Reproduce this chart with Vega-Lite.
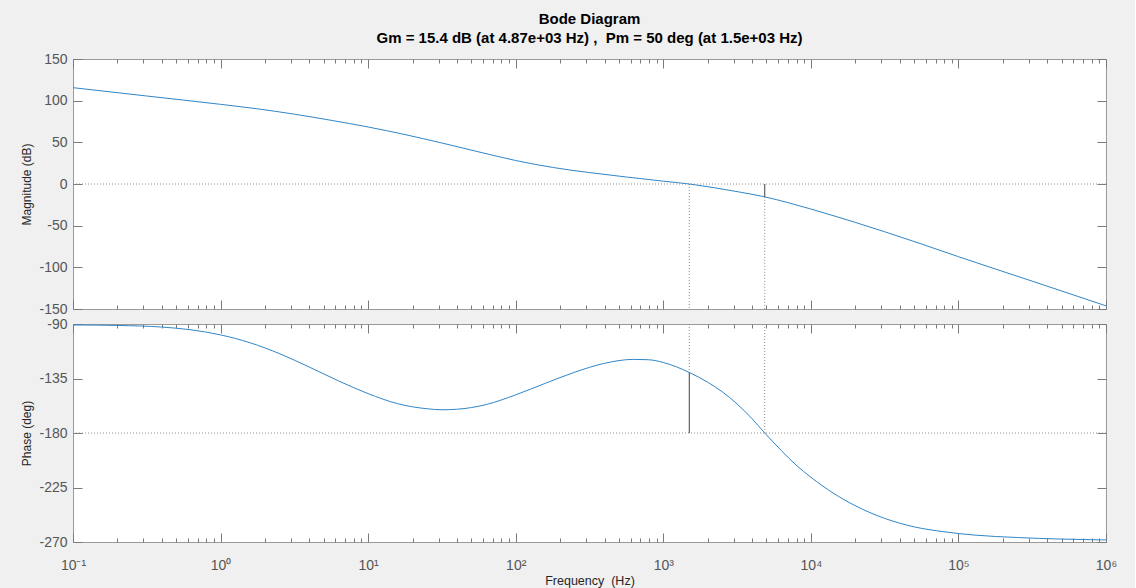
{
  "$schema": "https://vega.github.io/schema/vega-lite/v6.json",
  "background": "#f0f0f0",
  "padding": {"left": 19, "top": 11, "right": 17, "bottom": 3},
  "bounds": "flush",
  "spacing": 15,
  "title": {
    "text": "Bode Diagram",
    "subtitle": "Gm = 15.4 dB (at 4.87e+03 Hz) ,\u00a0 Pm = 50 deg (at 1.5e+03 Hz)",
    "anchor": "middle",
    "frame": "group",
    "font": "Liberation Sans",
    "fontSize": 15,
    "fontWeight": "bold",
    "color": "#000000",
    "subtitleFont": "Liberation Sans",
    "subtitleFontSize": 15,
    "subtitleFontWeight": "bold",
    "subtitleColor": "#000000",
    "subtitlePadding": 4,
    "offset": 6
  },
  "datasets": {
    "mag": [
      {"f": 0.1, "v": 115.6}, {"f": 0.3162, "v": 105.6}, {"f": 1, "v": 95.6}, {"f": 1.778, "v": 90.2},
      {"f": 3.162, "v": 83.8}, {"f": 5.623, "v": 76.4}, {"f": 10, "v": 68.4}, {"f": 17.78, "v": 59.3},
      {"f": 31.62, "v": 49.2}, {"f": 56.23, "v": 38.5}, {"f": 100, "v": 28.2}, {"f": 177.8, "v": 19.9},
      {"f": 316.2, "v": 13.7}, {"f": 562.3, "v": 8.4}, {"f": 1000, "v": 3.4}, {"f": 1500, "v": 0},
      {"f": 2239, "v": -4.6}, {"f": 3273, "v": -9.6}, {"f": 4870, "v": -15.4}, {"f": 7079, "v": -22.6},
      {"f": 10000, "v": -30.0}, {"f": 14125, "v": -37.9}, {"f": 19953, "v": -46.0}, {"f": 31623, "v": -57.3},
      {"f": 56234, "v": -72.0}, {"f": 100000, "v": -87.2}, {"f": 316228, "v": -116.6}, {"f": 1000000, "v": -146.2}
    ],
    "phase": [
      {"f": 0.1, "v": -90.8}, {"f": 0.1995, "v": -91.2}, {"f": 0.398, "v": -92.5}, {"f": 0.631, "v": -94.8},
      {"f": 1, "v": -99.0}, {"f": 1.585, "v": -105.5}, {"f": 2.512, "v": -114.5}, {"f": 3.981, "v": -125.5},
      {"f": 6.31, "v": -137.0}, {"f": 10, "v": -147.5}, {"f": 15.85, "v": -155.8}, {"f": 25.12, "v": -160.0},
      {"f": 31.62, "v": -160.8}, {"f": 39.81, "v": -160.4}, {"f": 63.1, "v": -156.5}, {"f": 100, "v": -148.5},
      {"f": 158.5, "v": -139.0}, {"f": 251.2, "v": -129.8}, {"f": 398.1, "v": -122.5}, {"f": 631, "v": -119.2},
      {"f": 794.3, "v": -119.5}, {"f": 1000, "v": -121.8}, {"f": 1500, "v": -130}, {"f": 1995, "v": -138.0},
      {"f": 2512, "v": -146.0}, {"f": 3162, "v": -156.0}, {"f": 3981, "v": -168.0}, {"f": 4870, "v": -180},
      {"f": 6310, "v": -194.5}, {"f": 7943, "v": -206.5}, {"f": 10000, "v": -216.5}, {"f": 14125, "v": -229.5},
      {"f": 19953, "v": -240}, {"f": 31623, "v": -250.5}, {"f": 50119, "v": -257.5}, {"f": 79433, "v": -261.5},
      {"f": 125893, "v": -264.2}, {"f": 251189, "v": -266.3}, {"f": 501187, "v": -267.6}, {"f": 1000000, "v": -268.3}
    ],
    "one": [{}],
    "vtop": [{"f": 1500, "a": 0, "b": -150}, {"f": 4870, "a": -15.4, "b": -150}],
    "gm": [{"f": 4870, "a": 0, "b": -15.4}],
    "vbot": [{"f": 1500, "a": -90, "b": -130}, {"f": 4870, "a": -90, "b": -180}],
    "pm": [{"f": 1500, "a": -130, "b": -180}]
  },
  "vconcat": [
    {
      "width": 1033,
      "height": 250,
      "resolve": {"axis": {"x": "independent", "y": "independent"}},
      "layer": [
        {
          "data": {"name": "mag"},
          "mark": {"type": "line", "color": "#2f86c8", "strokeWidth": 1, "interpolate": "monotone", "clip": true},
          "encoding": {
            "x": {"field": "f", "type": "quantitative", "scale": {"type": "log", "domain": [0.1, 1000000], "nice": false},
              "axis": {"orient": "bottom", "labels": false, "title": null,
                "values": [0.1,0.2,0.3,0.4,0.5,0.6,0.7,0.8,0.9,1,2,3,4,5,6,7,8,9,10,20,30,40,50,60,70,80,90,100,200,300,400,500,600,700,800,900,1000,2000,3000,4000,5000,6000,7000,8000,9000,10000,20000,30000,40000,50000,60000,70000,80000,90000,100000,200000,300000,400000,500000,600000,700000,800000,900000,1000000],
                "tickSize": {"condition": {"test": "indexof([0.1,1,10,100,1000,10000,100000,1000000], datum.value) >= 0", "value": -9}, "value": -4}}},
            "y": {"field": "v", "type": "quantitative", "scale": {"domain": [-150, 150], "nice": false, "zero": false},
              "axis": {"orient": "left", "values": [-150,-100,-50,0,50,100,150], "tickSize": -9, "labelPadding": 15,
                "labelExpr": "toString(datum.value)",
                "title": "Magnitude (dB)", "titleFontSize": 12, "titleX": -47, "titleBaseline": "middle"}}
          }
        },
        {
          "data": {"name": "vtop"},
          "mark": {"type": "rule", "color": "#8c8c8c", "strokeDash": [1, 2], "strokeWidth": 1},
          "encoding": {
            "x": {"field": "f", "type": "quantitative", "scale": {"type": "log", "domain": [0.1, 1000000], "nice": false},
              "axis": {"orient": "top", "labels": false, "title": null,
                "values": [0.1,0.2,0.3,0.4,0.5,0.6,0.7,0.8,0.9,1,2,3,4,5,6,7,8,9,10,20,30,40,50,60,70,80,90,100,200,300,400,500,600,700,800,900,1000,2000,3000,4000,5000,6000,7000,8000,9000,10000,20000,30000,40000,50000,60000,70000,80000,90000,100000,200000,300000,400000,500000,600000,700000,800000,900000,1000000],
                "tickSize": {"condition": {"test": "indexof([0.1,1,10,100,1000,10000,100000,1000000], datum.value) >= 0", "value": -9}, "value": -4}}},
            "y": {"field": "a", "type": "quantitative", "scale": {"domain": [-150, 150], "nice": false, "zero": false},
              "axis": {"orient": "right", "labels": false, "title": null, "values": [-150,-100,-50,0,50,100,150], "tickSize": -9}},
            "y2": {"field": "b"}
          }
        },
        {
          "data": {"name": "one"},
          "mark": {"type": "rule", "color": "#8c8c8c", "strokeDash": [1, 2], "strokeWidth": 1},
          "encoding": {"y": {"datum": 0, "axis": null}}
        },
        {
          "data": {"name": "gm"},
          "mark": {"type": "rule", "color": "#404040", "strokeWidth": 1},
          "encoding": {
            "x": {"field": "f", "type": "quantitative", "axis": null},
            "y": {"field": "a", "type": "quantitative", "axis": null},
            "y2": {"field": "b"}
          }
        }
      ]
    },
    {
      "width": 1033,
      "height": 218,
      "resolve": {"axis": {"x": "independent", "y": "independent"}},
      "layer": [
        {
          "data": {"name": "phase"},
          "mark": {"type": "line", "color": "#2f86c8", "strokeWidth": 1, "interpolate": "monotone", "clip": true},
          "encoding": {
            "x": {"field": "f", "type": "quantitative", "scale": {"type": "log", "domain": [0.1, 1000000], "nice": false},
              "axis": {"orient": "bottom", "title": "Frequency\u00a0 (Hz)", "titleFontSize": 12.5, "titleY": 38, "titleBaseline": "middle",
                "labelFontSize": 14, "labelBaseline": "top", "labelPadding": 25,
                "labelExpr": "datum.value == 0.1 ? '10⁻¹' : datum.value == 1 ? '10⁰' : datum.value == 10 ? '10¹' : datum.value == 100 ? '10²' : datum.value == 1000 ? '10³' : datum.value == 10000 ? '10⁴' : datum.value == 100000 ? '10⁵' : datum.value == 1000000 ? '10⁶' : ''",
                "values": [0.1,0.2,0.3,0.4,0.5,0.6,0.7,0.8,0.9,1,2,3,4,5,6,7,8,9,10,20,30,40,50,60,70,80,90,100,200,300,400,500,600,700,800,900,1000,2000,3000,4000,5000,6000,7000,8000,9000,10000,20000,30000,40000,50000,60000,70000,80000,90000,100000,200000,300000,400000,500000,600000,700000,800000,900000,1000000],
                "tickSize": {"condition": {"test": "indexof([0.1,1,10,100,1000,10000,100000,1000000], datum.value) >= 0", "value": -9}, "value": -4}}},
            "y": {"field": "v", "type": "quantitative", "scale": {"domain": [-270, -90], "nice": false, "zero": false},
              "axis": {"orient": "left", "values": [-270,-225,-180,-135,-90], "tickSize": -9, "labelPadding": 15,
                "labelExpr": "toString(datum.value)",
                "title": "Phase (deg)", "titleFontSize": 12, "titleX": -47, "titleBaseline": "middle"}}
          }
        },
        {
          "data": {"name": "vbot"},
          "mark": {"type": "rule", "color": "#8c8c8c", "strokeDash": [1, 2], "strokeWidth": 1},
          "encoding": {
            "x": {"field": "f", "type": "quantitative", "scale": {"type": "log", "domain": [0.1, 1000000], "nice": false},
              "axis": {"orient": "top", "labels": false, "title": null,
                "values": [0.1,0.2,0.3,0.4,0.5,0.6,0.7,0.8,0.9,1,2,3,4,5,6,7,8,9,10,20,30,40,50,60,70,80,90,100,200,300,400,500,600,700,800,900,1000,2000,3000,4000,5000,6000,7000,8000,9000,10000,20000,30000,40000,50000,60000,70000,80000,90000,100000,200000,300000,400000,500000,600000,700000,800000,900000,1000000],
                "tickSize": {"condition": {"test": "indexof([0.1,1,10,100,1000,10000,100000,1000000], datum.value) >= 0", "value": -9}, "value": -4}}},
            "y": {"field": "a", "type": "quantitative", "scale": {"domain": [-270, -90], "nice": false, "zero": false},
              "axis": {"orient": "right", "labels": false, "title": null, "values": [-270,-225,-180,-135,-90], "tickSize": -9}},
            "y2": {"field": "b"}
          }
        },
        {
          "data": {"name": "one"},
          "mark": {"type": "rule", "color": "#8c8c8c", "strokeDash": [1, 2], "strokeWidth": 1},
          "encoding": {"y": {"datum": -180, "axis": null}}
        },
        {
          "data": {"name": "pm"},
          "mark": {"type": "rule", "color": "#404040", "strokeWidth": 1},
          "encoding": {
            "x": {"field": "f", "type": "quantitative", "axis": null},
            "y": {"field": "a", "type": "quantitative", "axis": null},
            "y2": {"field": "b"}
          }
        }
      ]
    }
  ],
  "config": {
    "view": {"fill": "#ffffff", "stroke": "#9a9a9a", "strokeWidth": 1},
    "axis": {
      "domain": false, "grid": false,
      "labelFont": "Liberation Sans", "labelFontSize": 14, "labelColor": "#555555",
      "tickColor": "#7a7a7a", "tickWidth": 1,
      "titleFont": "Liberation Sans", "titleFontWeight": "normal", "titleColor": "#262626",
      "labelFlush": false, "labelOverlap": false, "labelBound": false
    }
  }
}
